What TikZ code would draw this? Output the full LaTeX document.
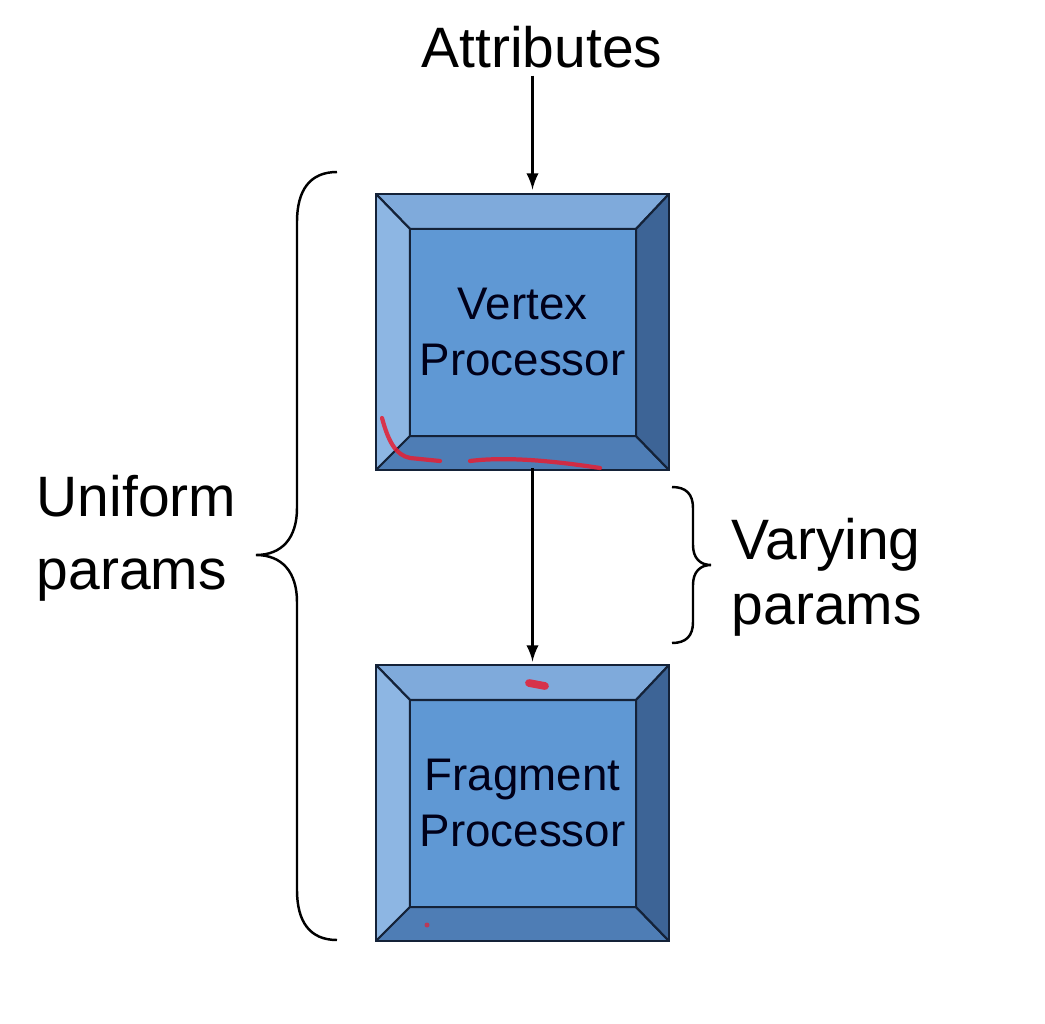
\documentclass[tikz,border=0pt]{standalone}
\usepackage{fontspec}
\setmainfont{Liberation Sans}
\usepackage{xcolor}
\usepackage{tikz}
\usetikzlibrary{arrows}

\definecolor{faceblue}{RGB}{95,152,212}
\definecolor{topblue}{RGB}{127,170,219}
\definecolor{leftblue}{RGB}{141,182,227}
\definecolor{bottomblue}{RGB}{78,125,181}
\definecolor{rightblue}{RGB}{61,100,150}
\definecolor{edgeblue}{RGB}{20,34,56}
\definecolor{penred}{RGB}{230,30,50}

\newcommand{\boxfont}{\fontsize{13}{15.8}\selectfont}
\newcommand{\labelfont}{\fontsize{16.2}{20.8}\selectfont}

\tikzset{
  bevel/.style={draw=edgeblue, line width=0.6pt},
  bevelbox/.style={draw=edgeblue, line width=0.8pt, fill=faceblue,
    minimum width=2.93cm, minimum height=2.76cm, inner sep=0pt,
    align=center, font=\boxfont, text=black!90!blue,
    path picture={
      \coordinate (bNW) at (path picture bounding box.north west);
      \coordinate (bNE) at (path picture bounding box.north east);
      \coordinate (bSE) at (path picture bounding box.south east);
      \coordinate (bSW) at (path picture bounding box.south west);
      \coordinate (iNW) at ([shift={(0.34cm,-0.35cm)}]bNW);
      \coordinate (iNE) at ([shift={(-0.33cm,-0.35cm)}]bNE);
      \coordinate (iSE) at ([shift={(-0.33cm,0.34cm)}]bSE);
      \coordinate (iSW) at ([shift={(0.34cm,0.34cm)}]bSW);
      \filldraw[bevel, fill=topblue] (bNW) -- (bNE) -- (iNE) -- (iNW) -- cycle;
      \filldraw[bevel, fill=leftblue] (bNW) -- (iNW) -- (iSW) -- (bSW) -- cycle;
      \filldraw[bevel, fill=bottomblue] (bSW) -- (iSW) -- (iSE) -- (bSE) -- cycle;
      \filldraw[bevel, fill=rightblue] (bNE) -- (bSE) -- (iSE) -- (iNE) -- cycle;
      \draw[bevel, line width=0.8pt] (iNW) rectangle (iSE);
    }},
  plainlabel/.style={font=\labelfont, inner sep=2pt},
  flow/.style={-latex, line width=0.6pt},
  brace/.style={line width=0.7pt},
  scribble/.style={penred, line width=1.2pt, line cap=round, opacity=0.85}
}

\begin{document}
\begin{tikzpicture}[x=0.01cm, y=-0.01cm]
        \useasboundingbox[fill=white] (0, 0) rectangle (1045, 1024);

        % the two processors
        \node[bevelbox] (vp) at (522.5, 332) {Vertex\\Processor};
        \node[bevelbox] (fp) at (522.5, 803) {Fragment\\Processor};

        % labels
        \node[plainlabel] (attr) at (542, 47) {Attributes};
        \node[plainlabel, anchor=west, align=left] (uniform) at (29, 538) {Uniform\\params};
        \node[plainlabel, anchor=west, align=left,
              font=\fontsize{16.2}{18.6}\selectfont] (varying) at (724, 577) {Varying\\params};

        % data flow
        \coordinate (vpin) at ([xshift=0.1cm, yshift=0.03cm]vp.north);
        \coordinate (vpout) at ([xshift=0.1cm, yshift=0.03cm]vp.south);
        \coordinate (fpin) at ([xshift=0.1cm, yshift=0.02cm]fp.north);
        \draw[flow] (attr.south -| vpin) -- (vpin);
        \draw[flow] (vpout) -- (fpin);

        % braces
        \draw[brace] (337, 172) .. controls (310, 172) and (297, 190) .. (297, 222)
            -- (297, 508) .. controls (297, 538) and (282, 555) .. (256, 555)
            .. controls (282, 555) and (297, 572) .. (297, 602)
            -- (297, 890) .. controls (297, 922) and (310, 940) .. (337, 940);
        \draw[brace] (672, 487) .. controls (686, 487) and (693, 494) .. (693, 508)
            -- (693, 545) .. controls (693, 558) and (700, 565) .. (711, 565)
            .. controls (700, 565) and (693, 572) .. (693, 585)
            -- (693, 622) .. controls (693, 636) and (686, 643) .. (672, 643);

        % pen marks
        \draw[scribble] (382, 418) .. controls (388, 440) and (395, 455) .. (410, 458) -- (440, 461);
        \draw[scribble] (470, 461) .. controls (510, 456) and (560, 462) .. (600, 468);
        \draw[scribble, line width=2.2pt] (529, 683) -- (545, 686);
        \fill[penred, opacity=0.7] (427, 925) circle (2.5);
    \end{tikzpicture}
\end{document}
